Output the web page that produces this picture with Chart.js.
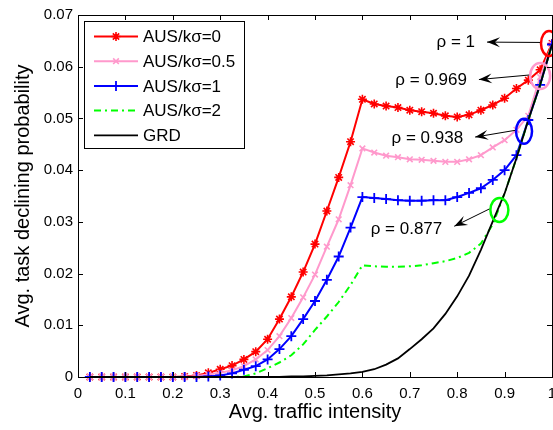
<!DOCTYPE html>
<html><head><meta charset="utf-8">
<script src="https://cdn.jsdelivr.net/npm/chart.js@4/dist/chart.umd.min.js"></script>
<style>html,body{margin:0;padding:0;background:#fff;overflow:hidden}#wrap{width:553px;height:430px}</style>
</head><body><div id="wrap"><canvas id="c" width="553" height="430"></canvas></div>
<script>
const traffic = [0.025,0.05,0.075,0.1,0.125,0.15,0.175,0.2,0.225,0.25,0.275,0.3,0.325,0.35,0.375,0.4,0.425,0.45,0.475,0.5,0.525,0.55,0.575,0.6,0.625,0.65,0.675,0.7,0.725,0.75,0.775,0.8,0.825,0.85,0.875,0.9,0.925,0.95,0.975,1.0];
const aus0   = [0,0,0,0,0,0,0,0,0.0001,0.0003,0.0008,0.0015,0.0022,0.0034,0.0049,0.0073,0.0112,0.0155,0.0203,0.0257,0.0321,0.0386,0.0455,0.0537,0.0528,0.0524,0.0521,0.0516,0.0513,0.0510,0.0505,0.0503,0.0507,0.0516,0.0526,0.0539,0.0558,0.0574,0.0594,0.0645];
const aus05  = [0,0,0,0,0,0,0,0,0,0.0002,0.0005,0.0008,0.0013,0.0021,0.0034,0.0052,0.0079,0.0114,0.0154,0.0198,0.0252,0.0305,0.0371,0.0442,0.0434,0.0428,0.0425,0.0421,0.0420,0.0418,0.0416,0.0416,0.0421,0.0429,0.0444,0.0458,0.0478,0.0505,0.0580,0.0643];
const aus1   = [0,0,0,0,0,0,0,0,0,0,0.0001,0.0003,0.0007,0.0014,0.0021,0.0034,0.0054,0.0079,0.0112,0.0147,0.0188,0.0233,0.0289,0.0348,0.0346,0.0344,0.0342,0.0341,0.0341,0.0342,0.0342,0.0348,0.0356,0.0365,0.0381,0.0400,0.0429,0.0497,0.0565,0.0643];
const aus2   = [0,0,0,0,0,0,0,0,0,0,0,0,0,0.0001,0.0007,0.0017,0.0028,0.0042,0.0063,0.0091,0.0117,0.0145,0.0178,0.0216,0.0214,0.0213,0.0213,0.0214,0.0216,0.0220,0.0224,0.0230,0.0240,0.0258,0.0295,0.0355,0.0423,0.0497,0.0565,0.0643];
const grd    = [0,0,0,0,0,0,0,0,0,0,0,0,0,0,0,0,0,0.0001,0.0001,0.0002,0.0003,0.0005,0.0007,0.0010,0.0015,0.0024,0.0036,0.0054,0.0073,0.0094,0.0122,0.0156,0.0196,0.0246,0.0301,0.0355,0.0423,0.0497,0.0565,0.0643];
const seriesNames = ['AUS/k\u03C3=0','AUS/k\u03C3=0.5','AUS/k\u03C3=1','AUS/k\u03C3=2','GRD'];
const xTicks = [0,0.1,0.2,0.3,0.4,0.5,0.6,0.7,0.8,0.9,1];
const yTicks = [0,0.01,0.02,0.03,0.04,0.05,0.06,0.07];
const rhoLabels = ['\u03C1 = 1','\u03C1 = 0.969','\u03C1 = 0.938','\u03C1 = 0.877'];
const rhoPoints = [[1.0,0.0645],[0.975,0.0582],[0.941,0.0475],[0.889,0.0323]];
const rhoTextPos = [[0.797,0.0648],[0.745,0.0574],[0.737,0.0462],[0.693,0.0286]];

const FONT = "'Liberation Sans', Arial, Helvetica, sans-serif";
const colors = ['#ff0000','#ff99cc','#0000ff','#00ff00','#000000'];
const styles = [
  {pointStyle:'star', r:4.5, bw:1.6, lw:2},
  {pointStyle:'crossRot', r:4, bw:1.6, lw:2},
  {pointStyle:'cross', r:5, bw:1.8, lw:2},
  {pointStyle:false, r:0, bw:0, lw:2, dash:[7,4,2,4]},
  {pointStyle:false, r:0, bw:0, lw:1.8}
];
const seriesData = [aus0,aus05,aus1,aus2,grd];

const datasets = seriesData.map((arr,i)=>({
  label: seriesNames[i],
  data: traffic.map((x,j)=>({x:x,y:arr[j]})),
  borderColor: colors[i],
  backgroundColor: colors[i],
  borderWidth: styles[i].lw,
  borderDash: styles[i].dash || [],
  pointStyle: styles[i].pointStyle || 'circle',
  pointRadius: styles[i].r,
  pointBorderWidth: styles[i].bw,
  pointBorderColor: colors[i],
  pointBackgroundColor: colors[i],
  tension: 0,
  clip: 8,
  order: 4-i
}));

function arrow(ctx, x1,y1,x2,y2){
  ctx.beginPath(); ctx.moveTo(x1,y1); ctx.lineTo(x2,y2); ctx.stroke();
  const a = Math.atan2(y2-y1,x2-x1);
  const L=13, W=5;
  const bx = x2 - L*Math.cos(a), by = y2 - L*Math.sin(a);
  const nx = -Math.sin(a), ny = Math.cos(a);
  const mx = x2 - (L*0.6)*Math.cos(a), my = y2 - (L*0.6)*Math.sin(a);
  ctx.beginPath();
  ctx.moveTo(x2,y2);
  ctx.lineTo(bx+nx*W, by+ny*W);
  ctx.lineTo(mx,my);
  ctx.lineTo(bx-nx*W, by-ny*W);
  ctx.closePath(); ctx.fill();
}

const framePlugin = {
  id:'frame',
  afterDatasetsDraw(chart){
    const {ctx, chartArea:a, scales:{x,y}} = chart;
    ctx.save();
    const ellCol = ['#ff0000','#ff99cc','#0000ff','#00ff00'];
    const ellR = [[8,12.5],[10,13],[8,12.5],[9,12]];
    ctx.font = '17px '+FONT; ctx.fillStyle='#000'; ctx.textAlign='center'; ctx.textBaseline='middle';
    rhoPoints.forEach((p,i)=>{
      const cx = x.getPixelForValue(p[0]) - (i===0?3:0), cy = y.getPixelForValue(p[1]);
      ctx.strokeStyle = ellCol[i]; ctx.lineWidth = 2.5;
      ctx.beginPath(); ctx.ellipse(cx,cy,ellR[i][0],ellR[i][1],0,0,Math.PI*2); ctx.stroke();
      const tx = x.getPixelForValue(rhoTextPos[i][0]), ty = y.getPixelForValue(rhoTextPos[i][1]);
      ctx.fillStyle='#000';
      ctx.fillText(rhoLabels[i], tx, ty);
      const tw = ctx.measureText(rhoLabels[i]).width;
      ctx.strokeStyle='#000'; ctx.lineWidth=1;
      arrow(ctx, cx-ellR[i][0]-1, cy - 1, tx+tw/2+12, ty+ (cy-ty)*0.15);
    });
    ctx.strokeStyle='#000'; ctx.lineWidth=1;
    ctx.strokeRect(Math.round(a.left)+0.5, Math.round(a.top)+0.5, Math.round(a.right-a.left), Math.round(a.bottom-a.top));
    ctx.beginPath();
    xTicks.forEach(v=>{const px=Math.round(x.getPixelForValue(v))+0.5;
      ctx.moveTo(px,a.bottom); ctx.lineTo(px,a.bottom-5);
      ctx.moveTo(px,a.top); ctx.lineTo(px,a.top+5);});
    yTicks.forEach(v=>{const py=Math.round(y.getPixelForValue(v))+0.5;
      ctx.moveTo(a.left,py); ctx.lineTo(a.left+5,py);
      ctx.moveTo(a.right,py); ctx.lineTo(a.right-5,py);});
    ctx.stroke();
    const lx=84.5, ly=21.5, lw=160, lh=127;
    ctx.fillStyle='#fff'; ctx.fillRect(lx,ly,lw,lh);
    ctx.strokeRect(lx,ly,lw,lh);
    ctx.font='17px '+FONT; ctx.textAlign='left'; ctx.textBaseline='middle';
    seriesNames.forEach((n,i)=>{
      const yy = 36.5 + i*24.7;
      ctx.strokeStyle=colors[i]; ctx.lineWidth=styles[i].lw;
      ctx.setLineDash(styles[i].dash||[]);
      ctx.beginPath(); ctx.moveTo(94,yy); ctx.lineTo(138,yy); ctx.stroke();
      ctx.setLineDash([]);
      if(styles[i].pointStyle){
        ctx.fillStyle=colors[i]; ctx.lineWidth=styles[i].bw;
        Chart.helpers.drawPoint(ctx,{pointStyle:styles[i].pointStyle,radius:styles[i].r,borderWidth:styles[i].bw,rotation:0},116,yy);
      }
      ctx.fillStyle='#000';
      ctx.fillText(n,143,yy+1);
    });
    ctx.restore();
  }
};

new Chart(document.getElementById('c'),{
  type:'line',
  data:{datasets},
  options:{
    responsive:false, animation:false, devicePixelRatio:1,
    layout:{autoPadding:false, padding:{top:15,right:1,left:0,bottom:0}},
    plugins:{legend:{display:false},tooltip:{enabled:false}},
    scales:{
      x:{type:'linear',min:0,max:1,
        afterBuildTicks(s){s.ticks=xTicks.map(v=>({value:v}));},
        afterFit(s){s.height=53; s.paddingLeft=0; s.paddingRight=0;},
        grid:{display:false,drawTicks:false}, border:{display:false},
        ticks:{color:'#000',font:{family:FONT,size:15},padding:8,maxRotation:0,autoSkip:false,
          callback:v=> (v===0?'0':v===1?'1':v.toFixed(1))},
        title:{display:true,text:'Avg. traffic intensity',color:'#000',font:{family:FONT,size:20},padding:{top:0,bottom:6}}
      },
      y:{type:'linear',min:0,max:0.07,
        afterBuildTicks(s){s.ticks=yTicks.map(v=>({value:v}));},
        afterFit(s){s.width=78; s.paddingTop=0; s.paddingBottom=0;},
        grid:{display:false,drawTicks:false}, border:{display:false},
        ticks:{color:'#000',font:{family:FONT,size:15},padding:5,autoSkip:false,
          callback:v=> (v===0?'0':v.toFixed(2))},
        title:{display:true,text:'Avg. task declining probability',color:'#000',font:{family:FONT,size:20},padding:{top:11,bottom:0}}
      }
    }
  },
  plugins:[framePlugin]
});
</script></body></html>
